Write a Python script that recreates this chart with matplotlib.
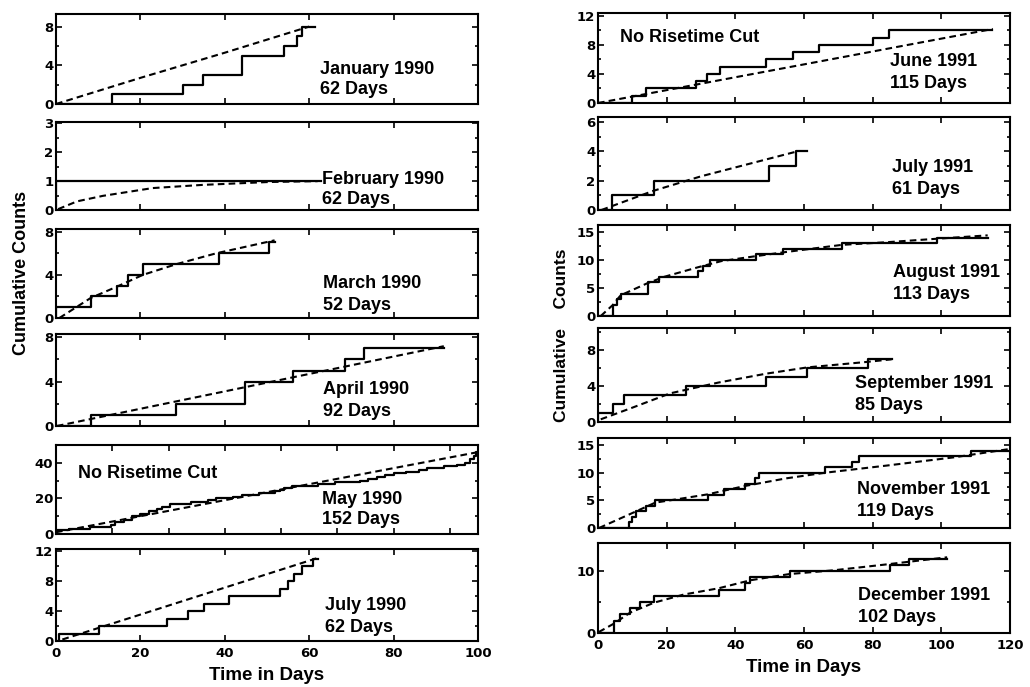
import matplotlib
matplotlib.use("Agg")
import matplotlib.pyplot as plt
from matplotlib.ticker import AutoMinorLocator

plt.rcParams['font.family'] = ['Liberation Sans', 'DejaVu Sans']

# ---- data (time in days, cumulative counts) ----
jan90_t = [0, 13.3, 30.2, 34.9, 44.1, 54.1, 57, 58.4, 61.3]
jan90_n = [0, 1, 2, 3, 5, 6, 7, 8, 8]
jan90_fx = [0, 20, 40, 60]
jan90_fy = [0, 2.7, 5.3, 8.0]

feb90_t = [0, 0, 62.9]
feb90_n = [0, 1, 1]
feb90_fx = [0.5, 5, 11.1, 22.9, 34.7, 50.4, 62]
feb90_fy = [0.03, 0.3, 0.49, 0.76, 0.87, 0.97, 1.0]

mar90_t = [0, 0, 8.2, 14.4, 17, 20.6, 38.7, 50.4, 51.8]
mar90_n = [0, 1, 2, 3, 4, 5, 6, 7, 7]
mar90_fx = [0.8, 8.2, 14.4, 20.6, 28.6, 38, 51.8]
mar90_fy = [0, 1.85, 2.9, 4.0, 5.0, 6.0, 7.2]

apr90_t = [0, 8.2, 28.4, 44.7, 56.2, 68.4, 73.1, 91.9]
apr90_n = [0, 1, 2, 4, 5, 6, 7, 7]
apr90_fx = [0.2, 91.9]
apr90_fy = [0, 7.2]

# May 1990 panel runs on a 150 day axis (no labels of its own)
may90_t = [0, 4.5, 12, 19.5, 21, 24, 27, 30, 33, 36, 37.5, 40.5, 48, 54, 57, 63,
           66, 72, 78, 79.5, 81, 84, 93, 99, 108, 111, 114, 117, 120, 124.5, 129,
           132, 138, 142.5, 145.5, 147, 148.5, 149.3, 150]
may90_n = [2, 3, 4, 5, 7, 8, 10, 11, 13, 14, 15, 17, 18, 19, 20, 21,
           22, 23, 24, 25, 26, 27, 28, 29, 30, 31, 32, 33, 34, 35, 36,
           37, 38, 39, 40, 42, 44, 46, 46]
may90_fx = [0, 150]
may90_fy = [1, 46]

jul90_t = [0, 0.6, 10.1, 26.2, 31.3, 35, 41, 53, 55, 56.5, 58.3, 61, 62.2]
jul90_n = [0, 1, 2, 3, 4, 5, 6, 7, 8, 9, 10, 11, 11]
jul90_fx = [1.5, 62]
jul90_fy = [0.2, 11.1]

jun91_t = [0, 10, 14.1, 28.4, 31.7, 35.6, 49, 56.9, 64.4, 80.1, 84.7, 114.9]
jun91_n = [0, 1, 2, 3, 4, 5, 6, 7, 8, 9, 10, 10]
jun91_fx = [0, 115]
jun91_fy = [0, 10.2]

jul91_t = [0, 4.1, 16.4, 49.8, 57.6, 61]
jul91_n = [0, 1, 2, 3, 4, 4]
jul91_fx = [1, 16, 30, 58]
jul91_fy = [0, 1.3, 2.3, 4.0]

aug91_t = [0, 4.3, 5.5, 6.7, 14.5, 17.8, 29, 30.5, 32.5, 46, 54, 71, 98.8, 113.5]
aug91_n = [0, 2, 3, 4, 6, 7, 8, 9, 10, 11, 12, 13, 14, 14]
aug91_fx = [0.8, 4.2, 6.6, 14.2, 19.3, 29.1, 35.9, 46.1, 54.4, 71, 84.7, 98.8, 113.5]
aug91_fy = [0, 1.9, 3.7, 5.8, 7.0, 8.7, 9.8, 10.7, 11.4, 12.7, 13.2, 13.8, 14.4]

sep91_t = [0, 0, 4.4, 7.6, 25.7, 48.9, 61, 78.6, 85.5]
sep91_n = [0, 1, 2, 3, 4, 5, 6, 7, 7]
sep91_fx = [0.8, 10, 21, 35, 49, 61, 78, 85.5]
sep91_fy = [0.3, 1.6, 3.2, 4.4, 5.4, 6.1, 6.7, 7.0]

nov91_t = [0, 8.9, 9.9, 11.2, 14.1, 16.7, 32, 36.6, 42.7, 45.7, 46.9, 66.1, 74, 75.9, 108.6, 119.8]
nov91_n = [0, 1, 2, 3, 4, 5, 6, 7, 8, 9, 10, 11, 12, 13, 14, 14]
nov91_fx = [0.3, 8.9, 16.7, 25, 32, 42.7, 54.9, 66, 84, 103.7, 119.8]
nov91_fy = [0, 2.4, 4.6, 5.4, 6.1, 7.6, 9.0, 10.0, 11.3, 12.8, 14.3]

dec91_t = [0, 4.6, 6.3, 9.4, 12.1, 16.4, 35.1, 42.9, 44.2, 55.8, 85.1, 90.5, 101.7]
dec91_n = [0, 2, 3, 4, 5, 6, 7, 8, 9, 10, 11, 12, 12]
dec91_fx = [0.2, 4.6, 9.4, 16.4, 25, 35.1, 44.4, 55.8, 68.6, 83.2, 101.7]
dec91_fy = [0.15, 1.5, 3.3, 4.9, 6.2, 7.2, 8.5, 9.5, 10.1, 11.0, 12.2]

left_xticks = [0, 20, 40, 60, 80, 100]
right_xticks = [0, 20, 40, 60, 80, 100, 120]

W, H = 1030, 687
fig = plt.figure(figsize=(W / 100, H / 100), dpi=100)


def px_axes(x0, x1, top, bot):
    return fig.add_axes([x0 / W, 1 - bot / H, (x1 - x0) / W, (bot - top) / H])


def ptext(x, y, s, size=13, **kw):
    fig.text(x / W, 1 - y / H, s, fontsize=size, fontweight='bold', va='center', ha='left', **kw)


left = [
    (jan90_t, jan90_n, jan90_fx, jan90_fy, [0, 4, 8], 9.3, 100, (14, 104)),
    (feb90_t, feb90_n, feb90_fx, feb90_fy, [0, 1, 2, 3], 3.05, 100, (122, 210)),
    (mar90_t, mar90_n, mar90_fx, mar90_fy, [0, 4, 8], 8.25, 100, (229, 318)),
    (apr90_t, apr90_n, apr90_fx, apr90_fy, [0, 4, 8], 8.3, 100, (334, 426)),
    (may90_t, may90_n, may90_fx, may90_fy, [0, 20, 40], 50, 150, (445, 534)),
    (jul90_t, jul90_n, jul90_fx, jul90_fy, [0, 4, 8, 12], 12.3, 100, (549, 641)),
]
right = [
    (jun91_t, jun91_n, jun91_fx, jun91_fy, [0, 4, 8, 12], 12.4, 120, (13, 103)),
    (jul91_t, jul91_n, jul91_fx, jul91_fy, [0, 2, 4, 6], 6.35, 120, (117, 210)),
    (aug91_t, aug91_n, aug91_fx, aug91_fy, [0, 5, 10, 15], 16.25, 120, (225, 316)),
    (sep91_t, sep91_n, sep91_fx, sep91_fy, [0, 4, 8], 10.5, 120, (328, 422)),
    (nov91_t, nov91_n, nov91_fx, nov91_fy, [0, 5, 10, 15], 16.3, 120, (438, 528)),
    (dec91_t, dec91_n, dec91_fx, dec91_fy, [0, 10], 14.5, 120, (543, 633)),
]

tick_font = dict(family='DejaVu Sans', weight='bold', size=9.5)


def draw(spec, x0, x1, last_ticks):
    for i, (t, n, fx, fy, yt, ymax, xmax, (top, bot)) in enumerate(spec):
        ax = px_axes(x0, x1, top, bot)
        ax.plot(t, n, drawstyle='steps-post', color='black', lw=1.6)
        ax.plot(fx, fy, color='black', lw=1.5, ls=(0, (3.2, 2.0)))
        ax.set_xlim(0, xmax)
        ax.set_ylim(0, ymax)
        ax.set_xticks(list(range(0, xmax + 1, 20)))
        ax.set_yticks(yt)
        ax.set_yticklabels([str(v) for v in yt], fontdict=tick_font)
        ax.yaxis.set_minor_locator(AutoMinorLocator(2))
        ax.tick_params(which='both', direction='in', top=True, right=True, width=1.2)
        ax.tick_params(which='major', length=4)
        ax.tick_params(which='minor', length=2.5)
        ax.tick_params(axis='y', pad=2)
        for s in ax.spines.values():
            s.set_linewidth(1.5)
        if i == len(spec) - 1:
            ax.set_xticks(last_ticks)
            ax.set_xticklabels([str(v) for v in last_ticks], fontdict=tick_font)
            ax.tick_params(axis='x', pad=4)
            ax.set_xlabel('Time in Days', fontsize=13.5, fontweight='bold', labelpad=5)
        else:
            ax.tick_params(axis='x', labelbottom=False)


draw(left, 56, 478, left_xticks)
draw(right, 598, 1010, right_xticks)

# panel annotations
ptext(320, 70, 'January 1990')
ptext(320, 89, '62 Days')
ptext(322, 180, 'February 1990')
ptext(322, 199, '62 Days')
ptext(323, 284, 'March 1990')
ptext(323, 306, '52 Days')
ptext(323, 390, 'April 1990')
ptext(323, 412, '92 Days')
ptext(78, 473, 'No Risetime Cut')
ptext(322, 500, 'May 1990')
ptext(322, 520, '152 Days')
ptext(325, 605, 'July 1990')
ptext(325, 627, '62 Days')

ptext(620, 37, 'No Risetime Cut')
ptext(890, 62, 'June 1991')
ptext(890, 83, '115 Days')
ptext(892, 168, 'July 1991')
ptext(892, 190, '61 Days')
ptext(893, 273, 'August 1991')
ptext(893, 295, '113 Days')
ptext(855, 384, 'September 1991')
ptext(855, 405, '85 Days')
ptext(857, 490, 'November 1991')
ptext(857, 512, '119 Days')
ptext(858, 595, 'December 1991')
ptext(858, 617, '102 Days')

fig.text(22 / W, 1 - 273 / H, 'Cumulative Counts', rotation=90, fontsize=13,
         fontweight='bold', ha='center', va='center')
fig.text(562 / W, 1 - 335 / H, 'Cumulative    Counts', rotation=90, fontsize=12.5,
         fontweight='bold', ha='center', va='center')

fig.savefig('out.png', dpi=100)
